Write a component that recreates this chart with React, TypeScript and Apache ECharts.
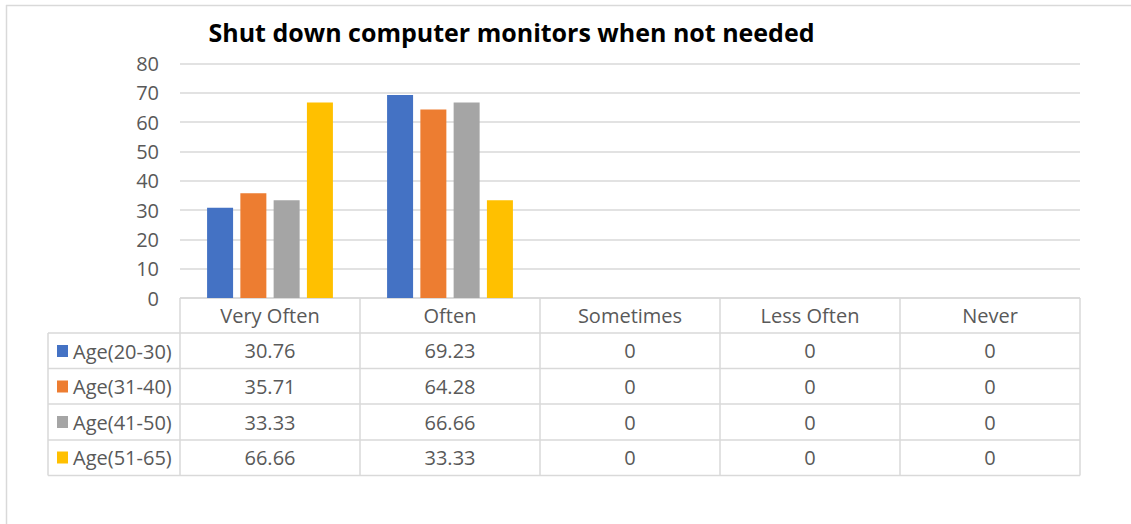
import React, { useEffect, useRef } from "react";
import * as echarts from "echarts";

const title = "Shut down computer monitors when not needed";
const categories = ["Very Often", "Often", "Sometimes", "Less Often", "Never"];
const seriesNames = ["Age(20-30)", "Age(31-40)", "Age(41-50)", "Age(51-65)"];
const age20to30 = [30.76, 69.23, 0, 0, 0];
const age31to40 = [35.71, 64.28, 0, 0, 0];
const age41to50 = [33.33, 66.66, 0, 0, 0];
const age51to65 = [66.66, 33.33, 0, 0, 0];
const seriesValues = [age20to30, age31to40, age41to50, age51to65];
const colors = ["#4472C4", "#ED7D31", "#A5A5A5", "#FFC000"];
const yMin = 0;
const yMax = 80;
const yInterval = 10;

const W = 1131;
const H = 524;
const GRID_LEFT = 180;
const GRID_RIGHT_X = 1080;
const GRID_TOP = 63.5;
const GRID_BOTTOM_Y = 298;
const TABLE_LEFT = 48;
const ROW_LINES = [298, 333, 368.5, 404, 440, 475.5];
const LINE_COLOR = "#D9D9D9";
const TEXT_COLOR = "#595959";
const FONT = "'Open Sans', 'Noto Sans', sans-serif";
const FS = 20;

export default function App() {
  const ref = useRef<HTMLDivElement>(null);
  useEffect(() => {
    if (!ref.current) return;
    const chart = echarts.init(ref.current, null, { renderer: "svg" });
    const cellW = (GRID_RIGHT_X - GRID_LEFT) / categories.length;
    const graphics: any[] = [];
    graphics.push({ type: "line", shape: { x1: 6, y1: 5.5, x2: W, y2: 5.5 }, style: { stroke: LINE_COLOR, lineWidth: 1.5 } });
    graphics.push({ type: "line", shape: { x1: 6.5, y1: 5, x2: 6.5, y2: H }, style: { stroke: LINE_COLOR, lineWidth: 1.5 } });
    ROW_LINES.forEach((y, i) => {
      const x1 = i === 0 ? GRID_LEFT : TABLE_LEFT;
      graphics.push({ type: "line", shape: { x1, y1: y, x2: GRID_RIGHT_X, y2: y }, style: { stroke: LINE_COLOR, lineWidth: 1.5 } });
    });
    graphics.push({ type: "line", shape: { x1: TABLE_LEFT, y1: ROW_LINES[1], x2: TABLE_LEFT, y2: ROW_LINES[5] }, style: { stroke: LINE_COLOR, lineWidth: 1.5 } });
    for (let j = 0; j <= categories.length; j++) {
      const x = GRID_LEFT + j * cellW;
      graphics.push({ type: "line", shape: { x1: x, y1: ROW_LINES[0], x2: x, y2: ROW_LINES[5] }, style: { stroke: LINE_COLOR, lineWidth: 1.5 } });
    }
    seriesValues.forEach((vals, i) => {
      const yc = (ROW_LINES[i + 1] + ROW_LINES[i + 2]) / 2;
      vals.forEach((v, j) => {
        graphics.push({
          type: "text",
          x: GRID_LEFT + (j + 0.5) * cellW,
          y: yc,
          style: { text: String(v), fill: TEXT_COLOR, font: `${FS}px ${FONT}`, align: "center", verticalAlign: "middle" },
        });
      });
    });

    chart.setOption({
      animation: false,
      title: {
        text: title,
        left: 511.5,
        top: 19,
        textAlign: "center",
        padding: 0,
        textStyle: { fontFamily: FONT, fontWeight: "bold", fontSize: 25, color: "#000" },
      },
      legend: {
        orient: "vertical",
        left: 57,
        top: 341,
        padding: 0,
        itemWidth: 11,
        itemHeight: 12,
        itemGap: 15.5,
        icon: "rect",
        data: seriesNames,
        textStyle: { fontFamily: FONT, fontSize: FS, color: TEXT_COLOR, lineHeight: 20 },
        selectedMode: false,
      },
      grid: {
        left: GRID_LEFT,
        right: W - GRID_RIGHT_X,
        top: GRID_TOP,
        bottom: H - GRID_BOTTOM_Y,
        containLabel: false,
      },
      xAxis: {
        type: "category",
        data: categories,
        axisLine: { show: false },
        axisTick: { show: false },
        axisLabel: { margin: 7, fontFamily: FONT, fontSize: FS, color: TEXT_COLOR, interval: 0 },
      },
      yAxis: {
        type: "value",
        min: yMin,
        max: yMax,
        interval: yInterval,
        axisLine: { show: false },
        axisTick: { show: false },
        axisLabel: { margin: 21, fontFamily: FONT, fontSize: FS, color: TEXT_COLOR },
        splitLine: { lineStyle: { color: LINE_COLOR, width: 1.5 } },
      },
      series: seriesValues.map((vals, i) => ({
        name: seriesNames[i],
        type: "bar",
        data: vals,
        barWidth: 26,
        barGap: "28%",
        itemStyle: { color: colors[i] },
      })),
      graphic: graphics,
    });
    return () => chart.dispose();
  }, []);
  return <div ref={ref} style={{ position: "fixed", left: 0, top: 0, width: W, height: H, background: "#fff" }} />;
}
